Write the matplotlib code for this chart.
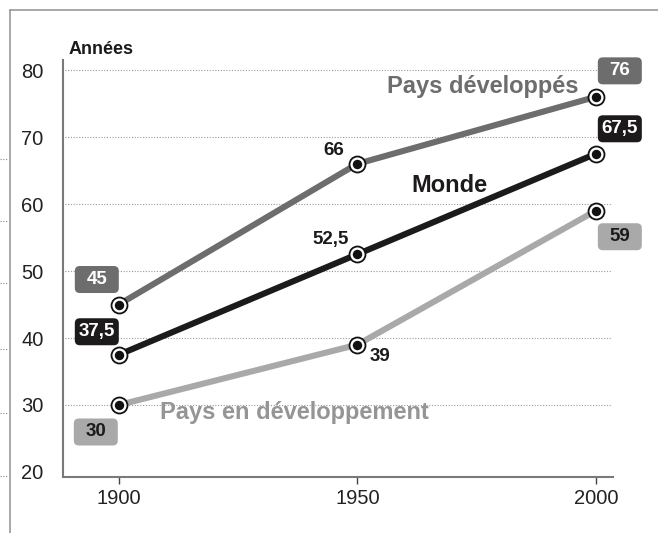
import matplotlib.pyplot as plt
import matplotlib.transforms as mtransforms
from matplotlib.patches import FancyBboxPatch
from matplotlib.lines import Line2D

# data
years = [1900, 1950, 2000]
developpes = [45, 66, 76]
monde = [37.5, 52.5, 67.5]
en_dev = [30, 39, 59]
yticks = [20, 30, 40, 50, 60, 70, 80]

FONT = dict(family=['Liberation Sans', 'DejaVu Sans'])

c_dev = '#6d6d6d'
c_monde = '#1c1a1b'
c_endev = '#a9a9a9'

fig = plt.figure(figsize=(6.58, 5.33), dpi=100)
W, H = 658, 533

# frame of the panel and left-over dotted stubs from the neighbouring panel
fig.add_artist(Line2D([10 / W, 1], [1 - 10 / H, 1 - 10 / H], color='#999999', lw=1.2))
fig.add_artist(Line2D([10 / W, 10 / W], [0, 1 - 10 / H], color='#999999', lw=1.2))
for yp in [159, 221, 283, 349, 413, 476]:
    fig.add_artist(Line2D([0, 8 / W], [1 - yp / H, 1 - yp / H], color='#888888',
                          lw=0.8, ls=(0, (1, 1.5))))

ax = fig.add_axes([63 / W, 1 - 477 / H, 550 / W, 417 / H])
ax.set_xlim(1888.3, 2003.6)
ax.set_ylim(19.25, 81.5)

for s in ['top', 'right']:
    ax.spines[s].set_visible(False)
for s in ['left', 'bottom']:
    ax.spines[s].set_color('#7a7a7a')
    ax.spines[s].set_linewidth(1.5)

ax.set_yticks(yticks)
ax.set_xticks(years)
ax.tick_params(axis='y', length=0, pad=14, labelsize=14.5, labelcolor='#222222')
ax.tick_params(axis='x', length=5, width=1, color='#444444', pad=4, labelsize=14.5,
               labelcolor='#222222')
for lab in ax.get_xticklabels() + ax.get_yticklabels():
    lab.set_family(FONT['family'])

for yv in yticks[1:]:
    ax.plot([1888.0, 2003.2], [yv, yv], color='#999999', lw=0.8, ls=(0, (1, 1.5)),
            clip_on=False, zorder=1)

for vals, col in [(en_dev, c_endev), (developpes, c_dev), (monde, c_monde)]:
    ax.plot(years, vals, color=col, lw=4.4, solid_capstyle='butt', zorder=3)
    ax.plot(years, vals, ls='none', marker='o', ms=11.5, mfc='white', mec='#111111',
            mew=1.3, zorder=4)
    ax.plot(years, vals, ls='none', marker='o', ms=6.8, mfc='#111111', mec='none', zorder=5)


def box_label(x, y, dx, dy, text, fc, tc):
    trans = fig.dpi_scale_trans + mtransforms.ScaledTranslation(x, y, ax.transData)
    w, h = 0.44, 0.27
    p = FancyBboxPatch((dx / 100 - w / 2, dy / 100 - h / 2), w, h,
                       boxstyle='round,pad=0,rounding_size=0.05',
                       fc=fc, ec='none', transform=trans, zorder=6, clip_on=False)
    ax.add_patch(p)
    ax.annotate(text, (x, y), xytext=(dx * 0.72, dy * 0.72), textcoords='offset points',
                ha='center', va='center', fontsize=13.5, fontweight='bold', color=tc,
                zorder=7, **FONT)


def plain_label(x, y, dx, dy, text):
    ax.annotate(text, (x, y), xytext=(dx * 0.72, dy * 0.72), textcoords='offset points',
                ha='center', va='center', fontsize=13.5, fontweight='bold', color='#1c1a1b',
                zorder=7, **FONT)


fmt = lambda v: (f'{v:g}').replace('.', ',')

box_label(years[0], developpes[0], -22, 25, fmt(developpes[0]), c_dev, 'white')
box_label(years[0], monde[0], -22, 23, fmt(monde[0]), c_monde, 'white')
box_label(years[0], en_dev[0], -23, -27, fmt(en_dev[0]), c_endev, '#1c1a1b')
box_label(years[2], developpes[2], 24, 26, fmt(developpes[2]), c_dev, 'white')
box_label(years[2], monde[2], 24, 25, fmt(monde[2]), c_monde, 'white')
box_label(years[2], en_dev[2], 24, -26, fmt(en_dev[2]), c_endev, '#1c1a1b')
plain_label(years[1], developpes[1], -24, 13, fmt(developpes[1]))
plain_label(years[1], monde[1], -27, 15, fmt(monde[1]))
plain_label(years[1], en_dev[1], 23, -12, fmt(en_dev[1]))

fig.text(483 / W, 1 - 86 / H, 'Pays développés', ha='center', va='center', fontsize=17,
         fontweight='bold', color=c_dev, **FONT)
fig.text(449 / W, 1 - 185 / H, 'Monde', ha='center', va='center', fontsize=17,
         fontweight='bold', color=c_monde, **FONT)
fig.text(294 / W, 1 - 413 / H, 'Pays en développement', ha='center', va='center',
         fontsize=17, fontweight='bold', color='#959595', **FONT)
fig.text(69 / W, 1 - 50 / H, 'Années', ha='left', va='center', fontsize=13,
         fontweight='bold', color='#1c1a1b', **FONT)

fig.savefig('out.png', dpi=100)
